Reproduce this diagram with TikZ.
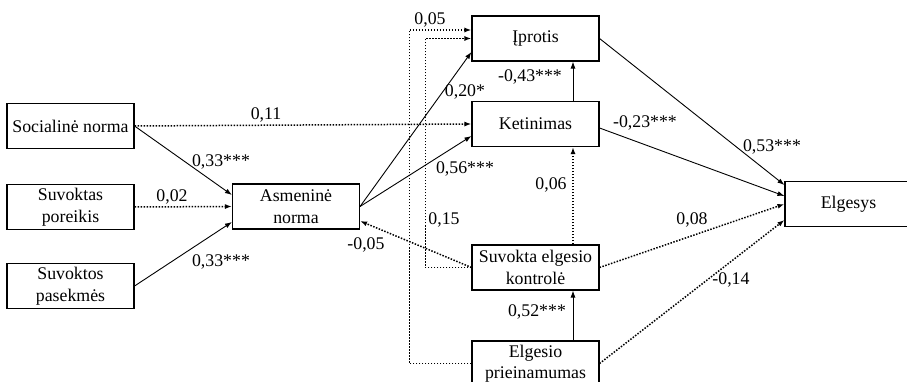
\documentclass[tikz,border=0pt]{standalone}
\usepackage{fontspec}
\setmainfont{Liberation Serif}
\usetikzlibrary{arrows.meta}
\begin{document}
\begin{tikzpicture}[x=1pt,y=-1pt,
  every node/.style={font=\fontsize{17.8}{21.5}\selectfont},
  box/.style={draw,line width=1.1pt,minimum width=127pt,minimum height=45pt,inner sep=0pt,align=center},
  sarrow/.style={line width=0.9pt,-{Latex[length=7pt,width=5pt]}},
  darrow/.style={line width=1.5pt,dash pattern=on 1.5pt off 1.5pt,-{Latex[length=7pt,width=5pt]}}]
\clip (0,0) rectangle (907,382);
\def\vx{37.5pt}

\node[box] (soc) at (70.5,126) {Socialinė norma};
\node[box] (por) at (70.5,207) {Suvoktas\\poreikis};
\node[box] (pas) at (70.5,286) {Suvoktos\\pasekmės};
\node[box] (asm) at (296,206.5) {Asmeninė\\norma};
\node[box] (ipr) at (535.5,38.5) {Įprotis};
\node[box] (ket) at (535.5,124) {Ketinimas};
\node[box] (suv) at (535.5,267.5) {Suvokta elgesio\\kontrolė};
\node[box] (pri) at (535.5,363.5) {Elgesio\\prieinamumas};
\node[box] (elg) at (848.5,204) {Elgesys};

\draw[sarrow] (soc.east) -- ([yshift=11.5pt]asm.west);
\draw[darrow] (por.east) -- (asm.west);
\draw[sarrow] (pas.east) -- ([yshift=-15.5pt]asm.west);
\draw[darrow] (soc.east) -- (ket.west);
\draw[sarrow] (asm.east) -- ([yshift=-13.5pt]ipr.west);
\draw[sarrow] (asm.east) -- ([yshift=-12pt]ket.west);
\draw[darrow] (suv.west) -- ([yshift=-14.5pt]asm.east);
\draw[darrow] (suv.west) -- ++(-46,0) |- (ipr.west);
\draw[darrow] (pri.west) -- ++(-62,0) |- ([yshift=8.5pt]ipr.west);
\draw[sarrow] ([xshift=\vx]ket.north) -- ([xshift=\vx]ipr.south);
\draw[darrow] ([xshift=\vx]suv.north) -- ([xshift=\vx]ket.south);
\draw[sarrow] ([xshift=\vx]pri.north) -- ([xshift=\vx]suv.south);
\draw[sarrow] (ipr.east) -- ([yshift=19pt]elg.west);
\draw[sarrow] ([yshift=-4pt]ket.east) -- ([yshift=8pt]elg.west);
\draw[darrow] (suv.east) -- (elg.west);
\draw[darrow] (pri.east) -- ([yshift=-16pt]elg.west);

\node (l1) at (221,162) {0,33***};
\node (l2) at (172,197) {0,02};
\node (l3) at (221,262) {0,33***};
\node (l4) at (266,115) {0,11};
\node (l5) at (465,92) {0,20*};
\node (l6) at (465,169) {0,56***};
\node (l7) at (530,77) {-0,43***};
\node (l8) at (551,185) {0,06};
\node (l9) at (537,312) {0,52***};
\node (l10) at (366,245) {-0,05};
\node (l11) at (444,220) {0,15};
\node (l12) at (430,20) {0,05};
\node (l13) at (772,147) {0,53***};
\node (l14) at (645,123) {-0,23***};
\node (l15) at (692,220) {0,08};
\node (l16) at (731,280) {-0,14};
\end{tikzpicture}
\end{document}
